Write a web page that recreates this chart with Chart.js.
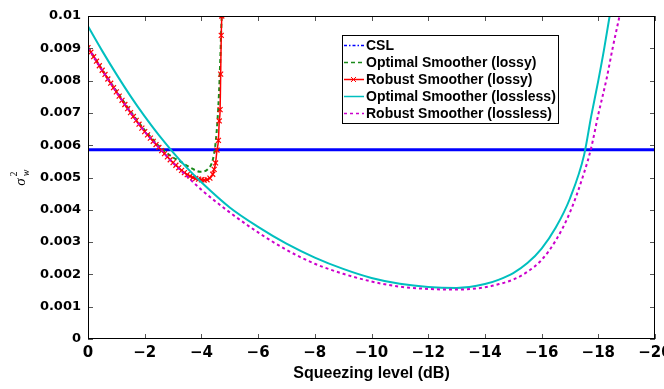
<!DOCTYPE html>
<html>
<head>
<meta charset="utf-8">
<script src="https://cdn.jsdelivr.net/npm/chart.js@4"></script>
<style>
  html, body { margin: 0; padding: 0; background: #fff; }
</style>
</head>
<body>
<canvas id="chart" width="664" height="389"></canvas>
<script>
// values, y in units of 1e-3
const cslX = [0, -20];
const cslY = [5.86, 5.86];

const optLossyX = [0, -0.5, -1.0, -1.5, -2.0, -2.5, -3.0, -3.25, -3.5, -3.75, -3.95, -4.1, -4.25, -4.36, -4.45, -4.51, -4.57, -4.62, -4.66, -4.70, -4.73];
const optLossyY = [9.03, 8.34, 7.68, 7.05, 6.47, 5.98, 5.62, 5.50, 5.36, 5.24, 5.18, 5.19, 5.28, 5.43, 5.75, 6.15, 6.8, 7.6, 8.5, 9.6, 10.3];

const robLossyX = [0, -0.1, -0.2, -0.3, -0.4, -0.5, -0.6, -0.7, -0.8, -0.9, -1.0, -1.1, -1.2, -1.3, -1.4, -1.5, -1.6, -1.7, -1.8, -1.9,
  -2.0, -2.1, -2.2, -2.3, -2.4, -2.5, -2.6, -2.7, -2.8, -2.9, -3.0, -3.1, -3.2, -3.3, -3.4, -3.5, -3.6, -3.7, -3.8, -3.9,
  -4.0, -4.1, -4.2, -4.3, -4.4, -4.45, -4.5, -4.55, -4.6, -4.63, -4.66, -4.68, -4.70, -4.72, -4.74];
const robLossyY = [9.02, 8.88, 8.74, 8.60, 8.46, 8.32, 8.19, 8.05, 7.92, 7.78, 7.65, 7.52, 7.39, 7.26, 7.13, 7.01, 6.89, 6.77, 6.65, 6.53,
  6.42, 6.32, 6.22, 6.12, 6.02, 5.93, 5.83, 5.74, 5.64, 5.55, 5.46, 5.38, 5.30, 5.22, 5.15, 5.09, 5.04, 5.00, 4.97, 4.95,
  4.93, 4.92, 4.93, 4.98, 5.10, 5.25, 5.45, 5.85, 6.15, 6.75, 7.1, 8.2, 9.4, 10.0, 10.6];

const optLosslessX = [0, -0.5, -1.0, -1.5, -2.0, -2.5, -3.0, -3.5, -4.0, -5, -6, -7, -8, -9, -10, -11, -12, -13, -14, -14.5, -15, -15.5, -16, -16.5, -17, -17.5, -17.75, -18, -18.2, -18.4, -18.5];
const optLosslessY = [9.68, 8.92, 8.20, 7.52, 6.89, 6.31, 5.78, 5.29, 4.85, 4.07, 3.47, 2.95, 2.52, 2.17, 1.89, 1.71, 1.61, 1.58, 1.70, 1.84, 2.04, 2.35, 2.80, 3.45, 4.35, 5.70, 6.90, 8.00, 8.95, 10.0, 10.5];

const robLosslessX = [0, -0.5, -1.0, -1.5, -2.0, -2.5, -3.0, -3.5, -4.0, -5, -6, -7, -8, -9, -10, -11, -12, -13, -14, -14.5, -15, -15.5, -16, -16.5, -17, -17.5, -17.75, -18, -18.3, -18.5, -18.75, -18.9];
const robLosslessY = [9.02, 8.32, 7.65, 7.01, 6.42, 5.93, 5.45, 5.03, 4.62, 3.92, 3.30, 2.76, 2.33, 2.02, 1.78, 1.62, 1.55, 1.53, 1.60, 1.70, 1.84, 2.08, 2.45, 3.05, 3.92, 5.15, 5.92, 6.95, 8.09, 8.98, 10.0, 10.6];

const xTicks = [0, -2, -4, -6, -8, -10, -12, -14, -16, -18, -20];
const legendNames = ['CSL', 'Optimal Smoother (lossy)', 'Robust Smoother (lossy)', 'Optimal Smoother (lossless)', 'Robust Smoother (lossless)'];

function pts(xs, ys) {
  return xs.map((v, i) => ({ x: v, y: ys[i] / 1000 }));
}

// box, inward ticks, legend, axis titles
const decorations = {
  id: 'decorations',
  afterDraw(chart) {
    const ctx = chart.ctx;
    const a = chart.chartArea;
    const xs = chart.scales.x, ys = chart.scales.y;
    ctx.save();
    ctx.lineWidth = 1;
    ctx.strokeStyle = '#555';
    ctx.beginPath();
    xs.ticks.forEach(t => {
      const p = Math.round(xs.getPixelForValue(t.value)) + 0.5;
      ctx.moveTo(p, a.bottom); ctx.lineTo(p, a.bottom - 5);
      ctx.moveTo(p, a.top); ctx.lineTo(p, a.top + 5);
    });
    ys.ticks.forEach(t => {
      const p = Math.round(ys.getPixelForValue(t.value)) + 0.5;
      ctx.moveTo(a.left, p); ctx.lineTo(a.left + 5, p);
      ctx.moveTo(a.right, p); ctx.lineTo(a.right - 5, p);
    });
    ctx.stroke();
    ctx.strokeStyle = '#000';
    ctx.strokeRect(a.left + 0.5, a.top + 0.5, a.right - a.left - 1, a.bottom - a.top - 1);

    // legend
    const lx = 342, ly = 35, lw = 216, lh = 88;
    ctx.fillStyle = '#fff';
    ctx.fillRect(lx, ly, lw, lh);
    ctx.strokeRect(lx + 0.5, ly + 0.5, lw, lh);
    const rowY = [45, 62, 79, 96, 113];
    const ds = chart.data.datasets;
    ctx.font = 'bold 14px "Liberation Sans", Arial, sans-serif';
    ctx.textBaseline = 'middle';
    for (let i = 0; i < legendNames.length; i++) {
      const d = ds[i];
      const yy = rowY[i] + 0.5;
      ctx.strokeStyle = d.borderColor;
      ctx.lineWidth = 1.5;
      ctx.setLineDash(i === 0 ? [3, 2, 1.5, 2] : (d.borderDash || []));
      ctx.beginPath(); ctx.moveTo(344, yy); ctx.lineTo(364, yy); ctx.stroke();
      ctx.setLineDash([]);
      if (i === 2) {
        ctx.lineWidth = 1;
        ctx.beginPath();
        ctx.moveTo(351, yy - 2.5); ctx.lineTo(356, yy + 2.5);
        ctx.moveTo(351, yy + 2.5); ctx.lineTo(356, yy - 2.5);
        ctx.stroke();
      }
      ctx.fillStyle = '#000';
      ctx.textAlign = 'left';
      ctx.fillText(legendNames[i], 366, rowY[i] + 1);
    }

    // x title
    ctx.fillStyle = '#000';
    ctx.textAlign = 'center';
    ctx.textBaseline = 'middle';
    ctx.font = 'bold 16px "Liberation Sans", Arial, sans-serif';
    ctx.fillText('Squeezing level (dB)', (a.left + a.right) / 2, 374);

    // y title: sigma_w^2
    ctx.translate(21, 179);
    ctx.rotate(-Math.PI / 2);
    ctx.textAlign = 'center';
    ctx.textBaseline = 'alphabetic';
    ctx.font = 'italic 15px "Liberation Serif", serif';
    ctx.fillText('\u03c3', -3, 4);
    ctx.font = '10px "Liberation Serif", serif';
    ctx.fillText('2', 5, -4);
    ctx.font = 'italic 10px "Liberation Serif", serif';
    ctx.fillText('w', 6, 8);
    ctx.restore();
  }
};

const ctx = document.getElementById('chart').getContext('2d');
new Chart(ctx, {
  type: 'line',
  data: {
    datasets: [
      { data: pts(cslX, cslY), borderColor: '#0000ff', borderWidth: 3, pointRadius: 0, order: 5 },
      { data: pts(optLossyX, optLossyY), borderColor: '#1a8a1a', borderWidth: 2, borderDash: [4, 3], pointRadius: 0, order: 4 },
      { data: pts(robLossyX, robLossyY), borderColor: '#ff0000', borderWidth: 1.5, pointStyle: 'crossRot', pointRadius: 3.5,
        pointBorderColor: '#ff0000', pointBorderWidth: 1.2, order: 3 },
      { data: pts(optLosslessX, optLosslessY), borderColor: '#00bfbf', borderWidth: 2, pointRadius: 0, order: 2 },
      { data: pts(robLosslessX, robLosslessY), borderColor: '#cc00cc', borderWidth: 2, borderDash: [3, 3], pointRadius: 0, order: 1 }
    ]
  },
  options: {
    responsive: false,
    animation: false,
    devicePixelRatio: 1,
    parsing: false,
    layout: { padding: { top: 16, right: 9, left: 0, bottom: 0 } },
    elements: { line: { tension: 0.3, cubicInterpolationMode: 'monotone', fill: false } },
    plugins: { legend: { display: false }, tooltip: { enabled: false } },
    scales: {
      x: {
        type: 'linear',
        reverse: true,
        min: -20,
        max: 0,
        afterBuildTicks: s => { s.ticks = xTicks.map(v => ({ value: v })); },
        afterFit: s => { s.height = 50; s.paddingLeft = 0; s.paddingRight = 0; },
        grid: { display: false, drawTicks: false },
        border: { display: false },
        ticks: {
          color: '#000',
          padding: 5,
          maxRotation: 0,
          autoSkip: false,
          font: { family: '"DejaVu Sans"', weight: 'bold', size: 15 },
          callback: v => v === 0 ? '0' : '\u2212' + Math.abs(v)
        }
      },
      y: {
        min: 0,
        max: 0.01,
        afterFit: s => { s.width = 88; s.paddingTop = 0; s.paddingBottom = 0; },
        grid: { display: false, drawTicks: false },
        border: { display: false },
        ticks: {
          stepSize: 0.001,
          color: '#000',
          padding: 7,
          font: { family: '"DejaVu Sans"', weight: 'bold', size: 13 },
          callback: v => String(parseFloat(v.toFixed(3)))
        }
      }
    }
  },
  plugins: [decorations]
});
</script>
</body>
</html>
